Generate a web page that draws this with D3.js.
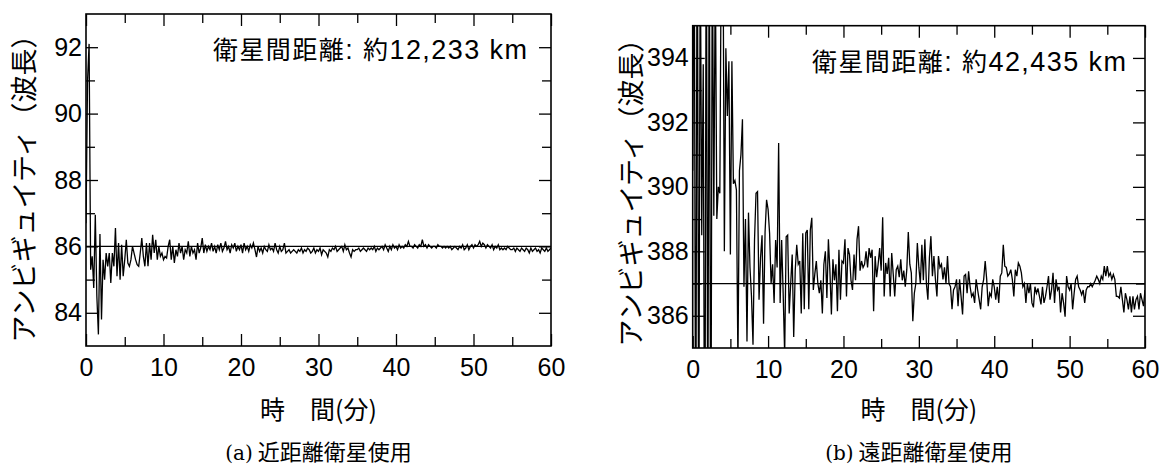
<!DOCTYPE html>
<html>
<head>
<meta charset="utf-8">
<script src="https://cdn.jsdelivr.net/npm/d3@7"></script>
<style>
  body { margin: 0; background: #fff; }
  svg { display: block; }
  .jp { font-family: "Noto Sans CJK JP", sans-serif; fill: #000; }
  .lat { font-family: "Liberation Sans", Arial, sans-serif; }
</style>
</head>
<body>
<div id="chartDiv"></div>
<script>
// sampling interval of both series (minutes)
var stepMin = 0.2;

// (a) near satellite, ambiguity in wavelengths, one row per minute
var nearValues = [
  86.7, 91.0, 92.1, 85.3, 85.7,
  84.75, 86.95, 84.5, 83.35, 86.37,
  83.8, 85.6, 85.0, 85.8, 85.4,
  85.8, 84.9, 85.8, 85.4, 86.55,
  85.1, 86.1, 85.0, 86.05, 85.1,
  85.6, 86.2, 85.5, 85.4, 85.6,
  86.0, 85.8, 85.6, 85.45, 85.4,
  85.8, 86.25, 85.7, 85.4, 86.1,
  85.4, 86.1, 85.6, 86.35, 85.8,
  86.2, 85.6, 86.0, 85.7, 85.8,
  85.6, 85.7, 85.65, 86.0, 86.2,
  85.6, 86.0, 85.5, 85.9, 85.7,
  86.1, 85.8, 86.0, 85.6, 85.9,
  85.8, 86.15, 85.7, 86.0, 85.8,
  85.9, 85.6, 86.1, 85.8, 85.95,
  86.25, 85.8, 86.05, 85.85, 86.0,
  85.9, 86.1, 85.85, 86.0, 85.8,
  86.05, 85.9, 86.1, 85.85, 85.95,
  86.15, 85.9, 86.0, 85.8, 86.05,
  85.95, 86.1, 85.85, 86.0, 85.9,
  86.05, 85.8, 86.1, 85.9, 86.0,
  85.85, 86.05, 85.95, 86.1, 85.9,
  85.68, 86.0, 85.85, 85.95, 85.8,
  86.0, 85.9, 85.85, 86.05, 85.9,
  85.95, 85.85, 86.1, 85.9, 85.8,
  86.0, 85.85, 85.9, 86.1, 85.8,
  85.85, 85.9, 85.8, 85.85, 85.9,
  85.85, 85.8, 85.9, 85.85, 85.95,
  85.8, 85.9, 85.85, 85.95, 85.9,
  85.8, 85.85, 85.95, 85.8, 85.9,
  85.85, 85.95, 85.75, 85.9, 85.85,
  85.8, 85.68, 85.9, 85.85, 85.95,
  85.9, 86.0, 85.85, 85.9, 85.95,
  86.0, 85.85, 86.05, 85.9, 85.95,
  85.8, 85.68, 85.9, 85.85, 85.9,
  85.9, 85.95, 85.85, 85.9, 85.95,
  85.9, 85.85, 85.95, 85.9, 85.95,
  85.9, 86.0, 85.85, 85.95, 85.9,
  85.95, 86.0, 85.9, 86.05, 85.95,
  85.85, 86.0, 85.9, 86.05, 85.95,
  86.0, 85.9, 86.05, 85.95, 86.0,
  85.95, 86.05, 86.0, 86.15, 86.0,
  86.0, 85.95, 86.05, 86.0, 85.95,
  86.05, 86.0, 86.2, 86.0, 86.05,
  85.95, 86.05, 86.0, 85.95, 86.0,
  86.0, 85.95, 86.05, 86.0, 86.0,
  85.95, 86.0, 85.95, 86.0, 85.95,
  86.0, 85.9, 85.95, 86.0, 85.95,
  85.9, 86.0, 85.95, 86.05, 85.9,
  85.95, 86.05, 85.9, 86.0, 86.05,
  85.95, 86.05, 86.0, 86.05, 86.15,
  86.0, 86.1, 86.05, 85.95, 86.05,
  86.0, 85.95, 86.05, 85.9, 86.0,
  85.95, 86.05, 85.9, 85.95, 85.9,
  85.95, 85.9, 86.0, 85.95, 85.9,
  85.9, 85.95, 85.85, 85.95, 85.9,
  85.85, 85.95, 85.9, 85.85, 85.95,
  85.9, 85.8, 85.95, 85.85, 85.9,
  85.95, 85.85, 85.9, 85.8, 85.95,
  85.9, 85.85, 85.95, 85.85, 85.9,
  85.95
];

// (b) far satellite
var farValues = [
  390.5, 399, 379, 401, 380,
  398, 388.5, 393.8, 378, 400,
  381, 399, 379, 398, 389.1,
  397, 389.0, 390.0, 389.8, 398,
  399, 388.0, 394.3, 392.2, 393.9,
  387.9, 393.9, 390.1, 390.2, 389.9,
  384.5, 390.5, 391.0, 392.1, 386.9,
  389.0, 385.2, 389.2, 387.5, 386.6,
  385.1, 388.35, 389.8, 389.85, 386.5,
  387.8, 388.5, 385.75, 388.6, 389.6,
  389.3, 388.56, 387.0, 387.6, 386.4,
  388.35, 387.5, 391.36, 386.4, 388.35,
  386.7, 384.8, 388.45, 388.5, 386.07,
  387.0, 387.9, 385.34, 387.4, 388.2,
  387.6, 387.7, 386.07, 388.56, 386.2,
  388.57, 388.66, 386.2, 388.66, 389.04,
  386.8, 387.3, 387.7, 387.0, 386.7,
  387.1, 386.07, 387.6, 388.0, 386.55,
  388.37, 387.4, 386.04, 387.75, 387.1,
  387.6, 386.14, 388.05, 386.5, 387.7,
  387.64, 388.37, 386.6, 388.1, 387.9,
  387.1, 386.8, 387.9, 387.1, 388.37,
  388.78, 387.4, 387.7, 387.5, 387.6,
  388.0, 387.5, 388.1, 387.8, 388.05,
  386.14, 387.85, 387.2, 387.6, 388.1,
  387.4, 389.06, 386.6, 387.64, 387.3,
  387.8, 386.6, 387.95, 387.3, 386.6,
  387.43, 387.54, 387.2, 387.75, 387.1,
  387.4, 386.9, 387.43, 388.6, 387.6,
  387.33, 385.83, 386.7, 387.0, 388.26,
  387.5, 387.0, 388.2, 387.1, 388.37,
  387.0, 386.5, 387.8, 388.47, 387.23,
  387.85, 387.13, 386.6, 387.85, 387.5,
  387.6, 387.13, 387.5, 387.0, 387.85,
  387.0, 386.9, 386.2, 386.8, 386.9,
  387.13, 386.3, 387.13, 386.6, 386.04,
  387.23, 387.28, 386.7, 387.38, 386.9,
  386.6, 386.7, 386.4, 387.13, 386.8,
  386.5, 386.2, 386.9, 387.13, 387.7,
  387.13, 386.3, 386.7, 386.6, 387.13,
  386.9, 386.5, 386.9, 386.4, 387.23,
  387.33, 388.2, 387.54, 387.5, 387.23,
  387.3, 387.43, 387.13, 386.6, 387.43,
  387.23, 387.64, 387.54, 387.33, 386.9,
  387.0, 386.4, 387.0, 386.7, 387.0,
  386.4, 386.26, 386.9, 386.7, 386.85,
  386.6, 386.35, 386.9, 386.4, 386.6,
  386.9, 387.23, 386.5, 386.8, 387.33,
  386.4, 387.13, 386.8, 386.9, 386.1,
  386.7, 386.4, 385.97, 387.23, 386.9,
  386.8, 387.0, 386.2, 386.7, 387.13,
  387.23, 386.9, 386.8, 386.65, 386.8,
  386.4, 386.8, 386.9, 386.9, 387.0,
  386.9, 387.0, 387.1, 387.23, 387.13,
  387.0, 387.23, 387.13, 387.54, 387.23,
  387.54, 387.23, 387.33, 387.13, 387.28,
  387.13, 386.6, 386.6, 386.55, 386.9,
  386.5, 386.1, 386.7, 386.5, 386.2,
  386.6, 386.1, 386.6, 386.2, 386.5,
  386.6, 386.2, 386.7, 386.5, 386.3,
  386.8
];

var xDomain = [0, 60];
var xMajorTicks = [0, 10, 20, 30, 40, 50, 60];
var xMinorTicks = [5, 15, 25, 35, 45, 55];

var nearDomain = [83, 93];
var nearMajorTicks = [84, 86, 88, 90, 92];
var nearMinorTicks = [85, 87, 89, 91];
var nearRef = 86;

var farDomain = [385, 395];
var farMajorTicks = [386, 388, 390, 392, 394];
var farMinorTicks = [387, 389, 391, 393];
var farRef = 387;

// distance label pieces: [cjk, latin, cjk, latin]
var distParts = [
  ["衛星間距離", ": ", "約", "12,233 km"],
  ["衛星間距離", ": ", "約", "42,435 km"]
];
var captionTags = ["(a)", "(b)"];
var captionTexts = [" 近距離衛星使用", " 遠距離衛星使用"];
var yTitle = "アンビギュイティ（波長）";
var xTitle = "時　間(分)";

var width = 1163, height = 471;

var panels = [
  { left: 86, top: 14, right: 551, bottom: 346, values: nearValues, domain: nearDomain,
    major: nearMajorTicks, minor: nearMinorTicks, ref: nearRef, ytx: 25, yty: 182,
    textX: 213, textY: 50 },
  { left: 692.7, top: 25.7, right: 1145, bottom: 348, values: farValues, domain: farDomain,
    major: farMajorTicks, minor: farMinorTicks, ref: farRef, ytx: 632, yty: 186,
    textX: 812, textY: 62 }
];

var svg = d3.select("#chartDiv").append("svg")
  .attr("width", width)
  .attr("height", height);

panels.forEach(function(p, i) {
  var w = p.right - p.left, h = p.bottom - p.top;
  var xScale = d3.scaleLinear().domain(xDomain).range([0, w]);
  var yScale = d3.scaleLinear().domain(p.domain).range([h, 0]);

  var g = svg.append("g").attr("transform", "translate(" + p.left + "," + p.top + ")");

  g.append("clipPath").attr("id", "clip" + i)
    .append("rect").attr("width", w).attr("height", h);

  // inward ticks on all four sides
  function tickAxis(axisFn, scale, vals, size, pad, showLabels, tx, ty) {
    var ax = axisFn(scale).tickValues(vals).tickSizeInner(-size).tickSizeOuter(0).tickPadding(pad);
    if (!showLabels) ax.tickFormat("");
    var a = g.append("g")
      .attr("transform", "translate(" + tx + "," + ty + ")")
      .call(ax)
      .attr("font-family", "'Liberation Sans', Arial, sans-serif")
      .attr("font-size", 25);
    a.select(".domain").remove();
    a.selectAll("line").attr("stroke", "#000").attr("stroke-width", 1.3);
    a.selectAll("text").attr("fill", "#000");
    return a;
  }
  tickAxis(d3.axisBottom, xScale, xMajorTicks, 12, 12, true, 0, h);
  tickAxis(d3.axisBottom, xScale, xMinorTicks, 9, 0, false, 0, h);
  tickAxis(d3.axisTop, xScale, xMajorTicks, 12, 0, false, 0, 0);
  tickAxis(d3.axisTop, xScale, xMinorTicks, 9, 0, false, 0, 0);
  tickAxis(d3.axisLeft, yScale, p.major, 12, 4, true, 0, 0);
  tickAxis(d3.axisLeft, yScale, p.minor, 9, 0, false, 0, 0);
  tickAxis(d3.axisRight, yScale, p.major, 12, 0, false, w, 0);
  tickAxis(d3.axisRight, yScale, p.minor, 9, 0, false, w, 0);

  // reference line
  g.append("line")
    .attr("x1", 0).attr("x2", w)
    .attr("y1", yScale(p.ref)).attr("y2", yScale(p.ref))
    .attr("stroke", "#000").attr("stroke-width", 1.2);

  var line = d3.line()
    .x(function(d, k) { return xScale(k * stepMin); })
    .y(function(d) { return yScale(d); });

  g.append("path")
    .datum(p.values)
    .attr("clip-path", "url(#clip" + i + ")")
    .attr("fill", "none")
    .attr("stroke", "#000")
    .attr("stroke-width", 1.3)
    .attr("d", line);

  g.append("rect")
    .attr("width", w).attr("height", h)
    .attr("fill", "none").attr("stroke", "#000").attr("stroke-width", 1.6);

  // distance label
  var dist = svg.append("text").attr("class", "jp")
    .attr("x", p.textX).attr("y", p.textY)
    .attr("dy", "0.35em")
    .attr("textLength", 314)
    .attr("lengthAdjust", "spacing")
    .style("font-size", "25px");
  distParts[i].forEach(function(s, k) {
    var t = dist.append("tspan").text(s);
    if (k % 2 === 1) t.attr("class", "lat").style("font-size", "27px");
  });

  // x title
  svg.append("text").attr("class", "jp")
    .attr("x", p.left + w / 2).attr("y", 410)
    .attr("dy", "0.35em")
    .attr("text-anchor", "middle")
    .style("font-size", "25px")
    .text(xTitle);

  // y title
  svg.append("text").attr("class", "jp")
    .attr("text-anchor", "middle")
    .attr("dy", "0.35em")
    .style("font-size", "27px")
    .attr("transform", "translate(" + p.ytx + "," + p.yty + ") rotate(-90)")
    .text(yTitle);

  // caption
  var cap = svg.append("text")
    .attr("x", p.left + w / 2).attr("y", 452)
    .attr("dy", "0.35em")
    .attr("text-anchor", "middle")
    .style("font-size", "22px");
  cap.append("tspan").style("font-family", "'DejaVu Serif', serif").style("font-size", "20px").text(captionTags[i]);
  cap.append("tspan").attr("class", "jp").text(captionTexts[i]);
});
</script>
</body>
</html>
